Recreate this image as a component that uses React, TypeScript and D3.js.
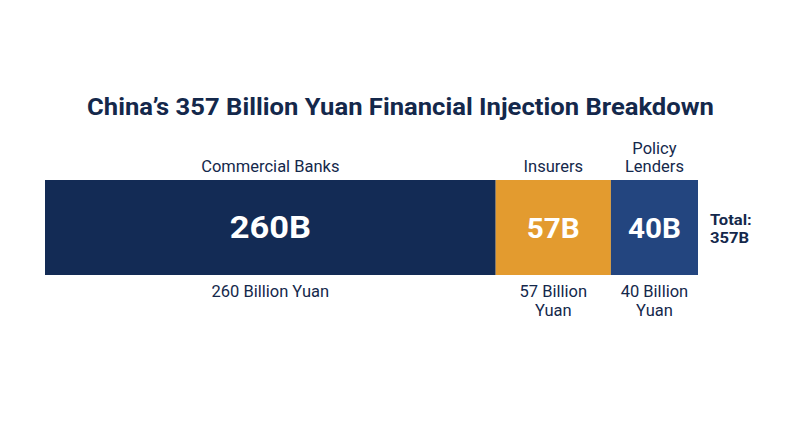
import React from "react";
import * as d3 from "d3";

const categories = ["Commercial Banks", "Insurers", "Policy Lenders"];
const topLabels = [["Commercial Banks"], ["Insurers"], ["Policy", "Lenders"]];
const bottomLabels = [["260 Billion Yuan"], ["57 Billion", "Yuan"], ["40 Billion", "Yuan"]];
const values = [260, 57, 40];
const valueLabels = ["260B", "57B", "40B"];
const colors = ["#132b55", "#e39b2f", "#23457f"];
const title = "China\u2019s 357 Billion Yuan Financial Injection Breakdown";
const totalLabel = ["Total:", "357B"];

const W = 800;
const H = 447;
const barX0 = 45;
const barX1 = 698;
const barY = 180;
const barH = 95;
const pad = 21;
const textColor = "#14284b";
const font = "Roboto, 'Noto Sans', sans-serif";

export default function App() {
  const total = d3.sum(values);
  const x = d3
    .scaleLinear()
    .domain([0, total])
    .range([0, barX1 - barX0 - pad * values.length]);

  let cursor = barX0;
  const segs = values.map((v, i) => {
    const w = x(v) + pad;
    const s = { x: cursor, w, v, i };
    cursor += w;
    return s;
  });

  return (
    <svg
      width={W}
      height={H}
      viewBox={`0 0 ${W} ${H}`}
      style={{ position: "absolute", left: 0, top: 0, background: "#fff" }}
      fontFamily={font}
    >
      <text
        transform={`translate(400.5,114.5) scale(1.09,1)`}
        textAnchor="middle"
        fontSize={23.5}
        fontWeight={700}
        fill={textColor}
      >
        {title}
      </text>
      {segs.map((s) => {
        const cx = s.x + s.w / 2;
        const top = topLabels[s.i];
        const bottom = bottomLabels[s.i];
        const big = s.i === 0;
        return (
          <g key={categories[s.i]}>
            <rect x={s.x} y={barY} width={s.w} height={barH} fill={colors[s.i]} />
            <text
              transform={`translate(${cx},238.3) scale(${big ? 1.13 : 1.06},1)`}
              textAnchor="middle"
              fontSize={big ? 30.5 : 28}
              fontWeight={700}
              fill="#ffffff"
            >
              {valueLabels[s.i]}
            </text>
            {top.map((t, j) => (
              <text
                key={j}
                x={cx}
                y={172.3 - (top.length - 1 - j) * 18.5}
                textAnchor="middle"
                fontSize={16.5}
                fill={textColor}
              >
                {t}
              </text>
            ))}
            {bottom.map((t, j) => (
              <text
                key={j}
                x={cx}
                y={297 + j * 18.5}
                textAnchor="middle"
                fontSize={16.5}
                fill={textColor}
              >
                {t}
              </text>
            ))}
          </g>
        );
      })}
      {totalLabel.map((t, j) => (
        <text
          key={j}
          transform={`translate(${barX1 + 12},${225 + j * 18}) scale(1.07,1)`}
          fontSize={15.5}
          fontWeight={700}
          fill={textColor}
        >
          {t}
        </text>
      ))}
    </svg>
  );
}
